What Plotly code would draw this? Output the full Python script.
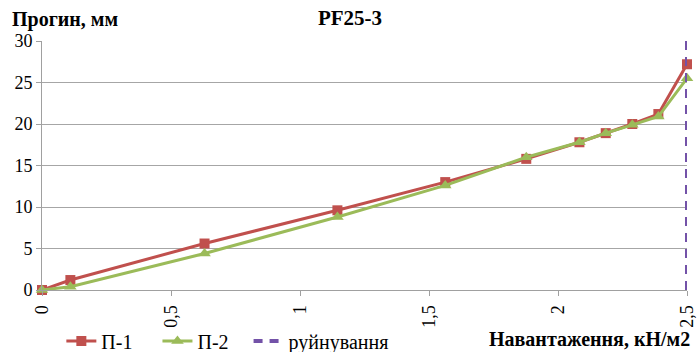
import plotly.graph_objects as go

load = [0, 0.11, 0.63, 1.145, 1.563, 1.877, 2.083, 2.185, 2.288, 2.389, 2.5]
p1 = [0, 1.2, 5.6, 9.6, 13.0, 15.8, 17.8, 18.9, 20.0, 21.2, 27.2]
p2 = [0, 0.4, 4.4, 8.8, 12.6, 16.0, 17.8, 18.9, 19.9, 20.9, 25.5]
fail_x = [2.5, 2.5]
fail_y = [0, 30]
xtick_vals = [0, 0.5, 1, 1.5, 2, 2.5]
xtick_text = ["0", "0,5", "1", "1,5", "2", "2,5"]
ytick_vals = [0, 5, 10, 15, 20, 25, 30]
names = ["П-1", "П-2", "руйнування"]

FONT = "Liberation Serif, serif"
NB = "\u00a0"

fig = go.Figure()
fig.add_trace(go.Scatter(x=load, y=p1, mode="lines+markers", name=names[0] + NB * 4,
                         line=dict(color="#c0504d", width=3),
                         marker=dict(symbol="square", size=10, color="#c0504d"), cliponaxis=False))
fig.add_trace(go.Scatter(x=load, y=p2, mode="lines+markers", name=names[1] + NB * 3,
                         line=dict(color="#9bbb59", width=3),
                         marker=dict(symbol="triangle-up", size=11, color="#9bbb59"), cliponaxis=False))
fig.add_trace(go.Scatter(x=fail_x, y=fail_y, mode="lines", name=names[2],
                         line=dict(color="#7352a8", width=4, dash="9px,7px"), cliponaxis=False))

fig.update_layout(
    width=700, height=352,
    margin=dict(l=42, r=13, t=41, b=62, autoexpand=False),
    paper_bgcolor="white", plot_bgcolor="white",
    font=dict(family=FONT, size=18, color="black"),
    title=dict(text="<b>PF25-3</b>", x=0.5, xanchor="center", y=0.95, yanchor="middle",
               font=dict(family=FONT, size=21, color="black")),
    showlegend=True,
    legend=dict(orientation="h", x=0.03, xanchor="left", y=-0.205, yanchor="middle",
                traceorder="normal",
                font=dict(family=FONT, size=20, color="black"),
                bgcolor="rgba(0,0,0,0)"),
    xaxis=dict(range=[0, 2.5], tickvals=xtick_vals, ticktext=xtick_text, tickangle=-90,
               automargin=False, ticklabelstandoff=2,
               showgrid=False, zeroline=False, showline=True, linecolor="#a0a0a0", linewidth=1,
               ticks="outside", ticklen=5, tickcolor="#a0a0a0",
               tickfont=dict(family=FONT, size=18, color="black")),
    yaxis=dict(range=[0, 30], tickvals=ytick_vals, ticksuffix=NB, showgrid=True,
               gridcolor="#a6a6a6", gridwidth=1, automargin=False,
               zeroline=False, showline=True, linecolor="#a0a0a0", linewidth=1,
               ticks="outside", ticklen=5, tickcolor="#a0a0a0",
               tickfont=dict(family=FONT, size=18, color="black")),
)

fig.add_annotation(text="<b>Прогин, мм</b>", xref="paper", yref="paper", x=-0.05, y=1.0,
                   xanchor="left", yanchor="bottom", yshift=8, showarrow=False,
                   font=dict(family=FONT, size=20, color="black"))
fig.add_annotation(text="<b>Навантаження, кН/м2</b>", xref="paper", yref="paper", x=1.008, y=-0.195,
                   xanchor="right", yanchor="middle", showarrow=False,
                   font=dict(family=FONT, size=20, color="black"))

fig.write_html("out.html")
